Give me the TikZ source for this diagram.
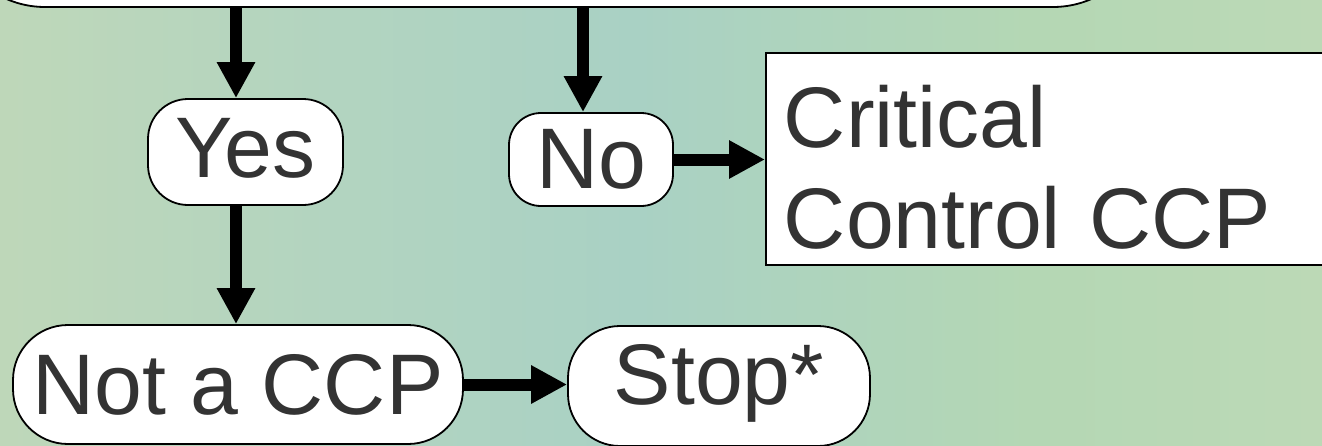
\documentclass[tikz,border=0pt]{standalone}
\usepackage{fontspec}
\setmainfont{Liberation Sans}
\usetikzlibrary{arrows.meta}

\definecolor{inkGray}{HTML}{333333}
\definecolor{bgA}{HTML}{C9D8B0}
\definecolor{bgB}{HTML}{C4D9B6}
\definecolor{bgC}{HTML}{B2D4C0}
\definecolor{bgD}{HTML}{A9D1C4}
\definecolor{bgE}{HTML}{B4D7B4}
\definecolor{bgF}{HTML}{C2DBB8}
\definecolor{bgG}{HTML}{BCDCC0}
\pgfdeclarehorizontalshading{leafBg}{100bp}{color(0bp)=(bgA); color(19bp)=(bgB); color(38bp)=(bgC); color(49bp)=(bgD); color(64bp)=(bgE); color(83bp)=(bgF); color(100bp)=(bgG)}

\begin{document}
\begin{tikzpicture}[x=1pt, y=-1pt,
    termBox/.style={draw=black, line width=1.8pt, fill=white, rounded corners=#1,
        inner sep=0pt, text=inkGray, font=\fontsize{86}{101}\selectfont},
    termBox/.default=40pt,
    plainBox/.style={draw=black, line width=1.8pt, fill=white, inner xsep=18pt,
        inner ysep=0pt, text=inkGray, font=\fontsize{86}{101}\selectfont},
    flowArrow/.style={black, line width=12pt, -{Triangle[length=36pt, width=36pt]}}]

    \useasboundingbox (0, 0) rectangle (1322, 445);
    \clip (0, 0) rectangle (1322, 445);
    \shade[shading=leafBg] (0, 0) rectangle (1322, 445);

    % question box, only its lower edge shows
    \node[termBox=96pt, minimum width=1200pt, minimum height=200pt] (question) at (549, -93) {};

    \node[termBox=40pt, minimum width=195pt, minimum height=106pt,
        text height=62pt, text depth=12pt] (yesBox) at (245.5, 152) {Yes};
    \node[termBox=32pt, minimum width=164pt, minimum height=93pt] (noBox) at (591, 159.5) {No};
    \node[plainBox, minimum width=600pt, minimum height=212pt, text width=564pt,
        text height=62pt, text depth=86pt, align=left, anchor=west] (critBox) at (765, 159) {Critical\\Control CCP};
    \node[termBox=55pt, minimum width=450pt, minimum height=119pt] (notBox) at (238, 384.5) {Not a CCP};
    \node[termBox=52pt, minimum width=302pt, minimum height=120pt,
        text height=62pt, text depth=26pt] (stopBox) at (719, 386) {Stop*};

    \coordinate (yesCol) at (236, 0);
    \coordinate (noCol) at (583, 0);

    \draw[flowArrow] (question.south -| yesCol) -- (yesBox.north -| yesCol);
    \draw[flowArrow] (question.south -| noCol) -- (noBox.north -| noCol);
    \draw[flowArrow] (noBox.east) -- (noBox.east -| critBox.west);
    \draw[flowArrow] (yesBox.south -| yesCol) -- (notBox.north -| yesCol);
    \draw[flowArrow] (notBox.east) -- (notBox.east -| stopBox.west);
\end{tikzpicture}
\end{document}
